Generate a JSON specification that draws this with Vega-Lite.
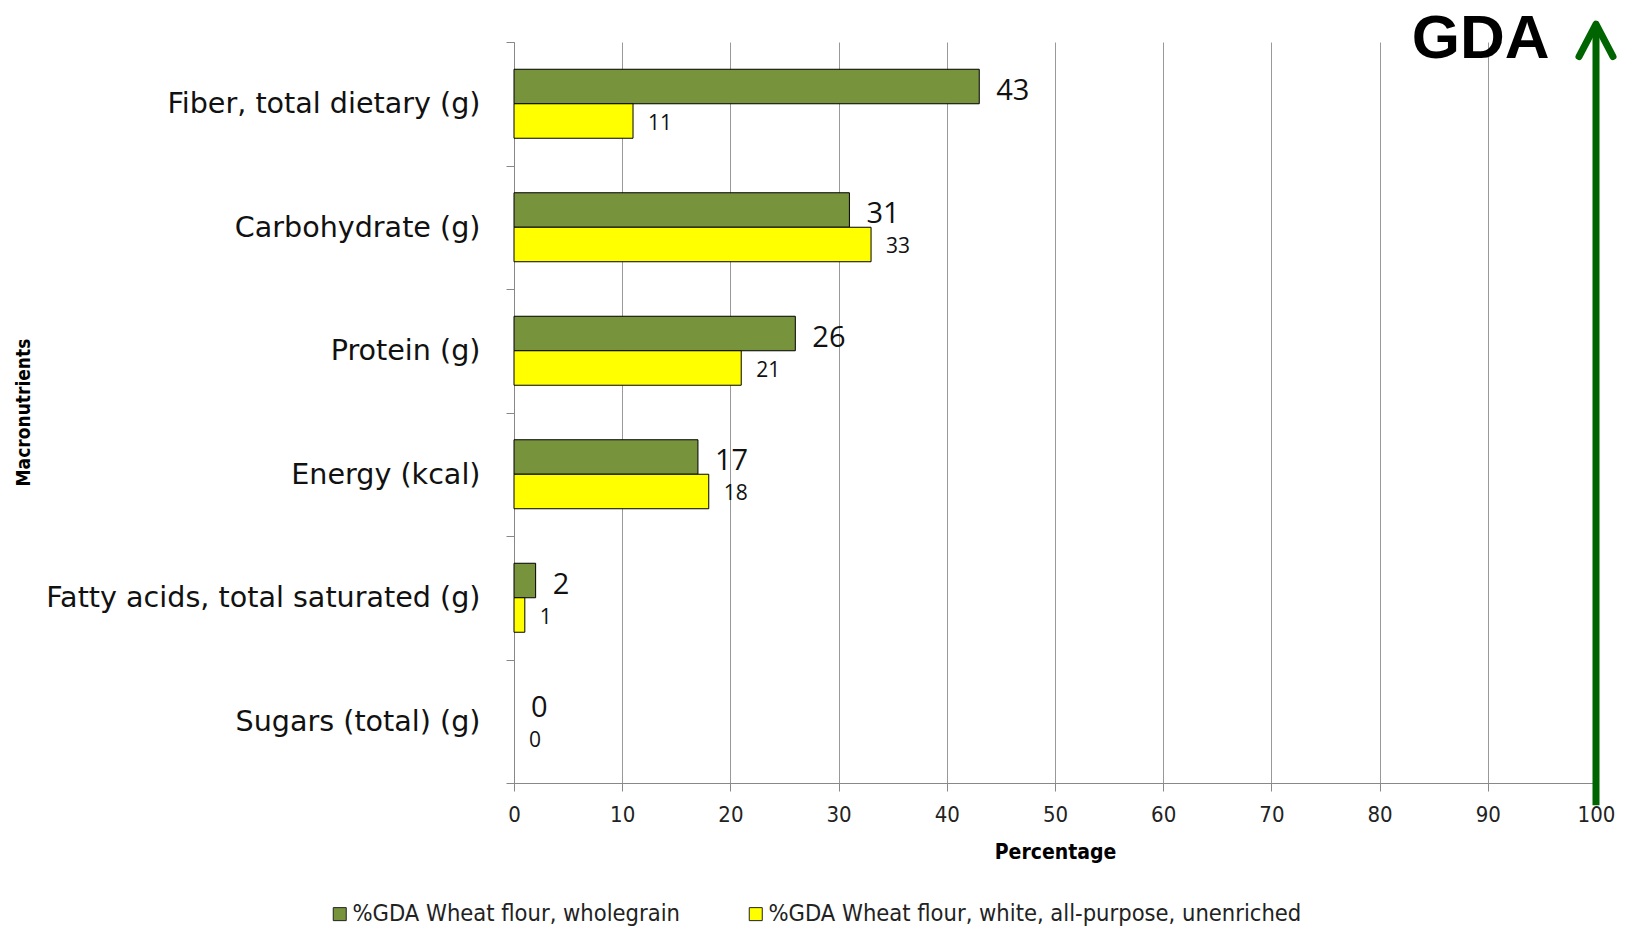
{
  "$schema": "https://vega.github.io/schema/vega-lite/v6.json",
  "width": 1082,
  "height": 741,
  "autosize": {"type": "none"},
  "padding": {"left": 514, "top": 42, "right": 41, "bottom": 143},
  "background": "white",
  "config": {"view": {"stroke": null}},
  "resolve": {"scale": {"y": "independent"}, "axis": {"y": "independent"}},
  "layer": [
    {
      "data": {"values": [
        {"nutrient": "Fiber, total dietary (g)", "series": "%GDA Wheat flour, wholegrain", "value": 43},
        {"nutrient": "Fiber, total dietary (g)", "series": "%GDA Wheat flour, white, all-purpose, unenriched", "value": 11},
        {"nutrient": "Carbohydrate (g)", "series": "%GDA Wheat flour, wholegrain", "value": 31},
        {"nutrient": "Carbohydrate (g)", "series": "%GDA Wheat flour, white, all-purpose, unenriched", "value": 33},
        {"nutrient": "Protein (g)", "series": "%GDA Wheat flour, wholegrain", "value": 26},
        {"nutrient": "Protein (g)", "series": "%GDA Wheat flour, white, all-purpose, unenriched", "value": 21},
        {"nutrient": "Energy (kcal)", "series": "%GDA Wheat flour, wholegrain", "value": 17},
        {"nutrient": "Energy (kcal)", "series": "%GDA Wheat flour, white, all-purpose, unenriched", "value": 18},
        {"nutrient": "Fatty acids, total saturated (g)", "series": "%GDA Wheat flour, wholegrain", "value": 2},
        {"nutrient": "Fatty acids, total saturated (g)", "series": "%GDA Wheat flour, white, all-purpose, unenriched", "value": 1},
        {"nutrient": "Sugars (total) (g)", "series": "%GDA Wheat flour, wholegrain", "value": 0},
        {"nutrient": "Sugars (total) (g)", "series": "%GDA Wheat flour, white, all-purpose, unenriched", "value": 0}
      ]},
      "encoding": {
        "y": {
          "field": "nutrient", "type": "nominal", "sort": null,
          "scale": {"paddingInner": 0, "paddingOuter": 0},
          "axis": {
            "title": "Macronutrients",
            "titleFont": "Liberation Sans Narrow, DejaVu Sans Condensed, sans-serif",
            "titleFontSize": 19, "titleFontWeight": "bold", "titleColor": "#000",
            "titleX": -491, "titleY": 370, "titleAngle": 270, "titleAlign": "center", "titleBaseline": "middle",
            "labelFont": "DejaVu Sans, Verdana, sans-serif",
            "labelFontSize": 28.6, "labelColor": "#111", "labelPadding": 26,
            "labelLimit": 600,
            "tickBand": "extent", "tickSize": 8, "tickColor": "#888",
            "domainColor": "#888", "grid": false
          }
        },
        "yOffset": {"field": "series", "sort": null, "scale": {"paddingOuter": 0.79, "paddingInner": 0}},
        "x": {
          "field": "value", "type": "quantitative",
          "scale": {"domain": [0, 100], "nice": false},
          "axis": {
            "title": "Percentage",
            "titleFont": "Liberation Sans Narrow, DejaVu Sans Condensed, sans-serif",
            "titleFontSize": 21, "titleFontWeight": "bold", "titleColor": "#000",
            "titlePadding": 16,
            "labelFont": "Liberation Sans Narrow, DejaVu Sans Condensed, sans-serif",
            "labelFontSize": 22, "labelColor": "#222", "labelPadding": 13,
            "labelFlush": false, "labelOverlap": false,
            "values": [0, 10, 20, 30, 40, 50, 60, 70, 80, 90, 100],
            "tickSize": 8, "tickColor": "#888", "domainColor": "#888",
            "grid": true, "gridColor": "#999", "gridWidth": 1
          }
        }
      },
      "layer": [
        {
          "transform": [{"filter": "datum.value > 0"}],
          "mark": {"type": "bar", "stroke": "#000", "strokeWidth": 1},
          "encoding": {
            "color": {
              "field": "series", "type": "nominal", "sort": null,
              "scale": {"domain": ["%GDA Wheat flour, wholegrain", "%GDA Wheat flour, white, all-purpose, unenriched"], "range": ["#77933C", "#FFFF00"]},
              "legend": {
                "title": null, "orient": "none", "direction": "horizontal",
                "legendX": -186, "legendY": 860, "padding": 0,
                "symbolType": "square", "symbolSize": 169, "symbolStrokeColor": "#222", "symbolStrokeWidth": 1,
                "symbolOpacity": 1,
                "labelFont": "Liberation Sans Narrow, DejaVu Sans Condensed, sans-serif",
                "labelFontSize": 23.5, "labelColor": "#222", "labelOffset": 1, "labelLimit": 800,
                "columnPadding": 64
              }
            }
          }
        },
        {
          "transform": [{"filter": "datum.series == '%GDA Wheat flour, wholegrain'"}],
          "mark": {"type": "text", "align": "left", "baseline": "middle", "dx": 17, "dy": 4, "fontSize": 29, "font": "Open Sans, sans-serif", "color": "#111"},
          "encoding": {"text": {"field": "value", "type": "quantitative"}}
        },
        {
          "transform": [{"filter": "datum.series != '%GDA Wheat flour, wholegrain'"}],
          "mark": {"type": "text", "align": "left", "baseline": "middle", "dx": 15, "dy": 3, "fontSize": 21, "font": "Open Sans, sans-serif", "color": "#111"},
          "encoding": {"text": {"field": "value", "type": "quantitative"}}
        }
      ]
    },
    {
      "data": {"values": [{"gda": 100}]},
      "mark": {"type": "rule", "color": "#006400", "strokeWidth": 7},
      "encoding": {
        "x": {"field": "gda", "type": "quantitative"},
        "y": {"datum": -0.03, "type": "quantitative", "scale": {"domain": [0, 1], "nice": false, "zero": false}, "axis": null},
        "y2": {"datum": 1.02}
      }
    },
    {
      "data": {"values": [{"gda": 100}]},
      "mark": {"type": "point", "shape": "M-1,1.9L0,0L1,1.9", "filled": false, "size": 1156, "stroke": "#006400", "strokeWidth": 7, "strokeCap": "round", "strokeJoin": "round", "opacity": 1},
      "encoding": {
        "x": {"field": "gda", "type": "quantitative"},
        "y": {"datum": 1.024, "type": "quantitative", "scale": {"domain": [0, 1], "nice": false, "zero": false}, "axis": null}
      }
    },
    {
      "data": {"values": [{"label": "GDA"}]},
      "mark": {"type": "text", "align": "right", "baseline": "alphabetic", "font": "Liberation Sans, Arial, sans-serif", "fontWeight": "bold", "fontSize": 62, "color": "#000"},
      "encoding": {
        "text": {"field": "label"},
        "x": {"datum": 95.7, "type": "quantitative"},
        "y": {"datum": 0.978, "type": "quantitative", "scale": {"domain": [0, 1], "nice": false, "zero": false}, "axis": null}
      }
    }
  ]
}
